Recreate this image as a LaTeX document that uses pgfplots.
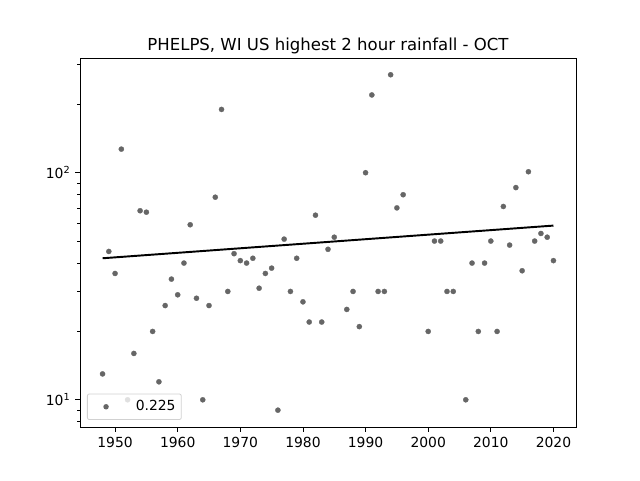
\documentclass[border=0pt]{standalone}
\usepackage{pgfplots}
\usepackage{fontspec}
\setmainfont{DejaVu Sans}
\pgfplotsset{compat=1.18}
\definecolor{dotc}{HTML}{666666}
\begin{document}
\begin{tikzpicture}[x=1pt,y=1pt]
\path[use as bounding box] (0,0) rectangle (480,360);
\begin{axis}[
  at={(60pt,39.75pt)},anchor=south west,
  scale only axis,width=372pt,height=276.75pt,
  ymode=log,
  xmin=1944.4,xmax=2023.6,ymin=7.59,ymax=320,
  xtick={1950,1960,...,2020},
  ytick={10,100},
  yticklabels={10\textsuperscript{1},10\textsuperscript{2}},
  minor ytick={8,9,20,30,40,50,60,70,80,90,200,300},
  x tick label style={/pgf/number format/1000 sep={},/pgf/number format/assume math mode=true},
  tick label style={font=\fontsize{10.42pt}{12pt}\selectfont},
  xtick pos=bottom,ytick pos=left,
  tick align=outside,
  major tick length=3.65pt,minor tick length=2.08pt,
  every tick/.style={black,line width=0.6pt},
  minor tick style={black,line width=0.45pt},
  axis line style={line width=0.6pt},
  xticklabel shift=0.6pt,
  title={PHELPS, WI US highest 2 hour rainfall - OCT},
  title style={font=\fontsize{12.4pt}{14pt}\selectfont,yshift=-6.7pt},
  legend cell align=left,
  legend style={
    at={(axis description cs:0.0141,0.019)},anchor=south west,
    draw=black!18,fill=white,fill opacity=0.8,text opacity=1,
    rounded corners=1.5pt,line width=0.6pt,
    font=\fontsize{10.42pt}{12pt}\selectfont,
    inner xsep=2.3pt,inner ysep=3pt,
  },
  legend image code/.code={\path[draw=none] (0pt,0pt) -- (32pt,0pt);\fill[dotc,draw=none,opacity=1] (11.7pt,0pt) circle (2.05pt);},
]
\addplot[only marks,color=dotc,mark=*,mark size=1.95pt,mark options={draw=dotc,fill=dotc,line width=0.2pt}] table {
1948 13
1949 45
1950 36
1951 127
1952 10
1953 16
1954 68
1955 67
1956 20
1957 12
1958 26
1959 34
1960 29
1961 40
1962 59
1963 28
1964 10
1965 26
1966 78
1967 190
1968 30
1969 44
1970 41
1971 40
1972 42
1973 31
1974 36
1975 38
1976 9
1977 51
1978 30
1979 42
1980 27
1981 22
1982 65
1983 22
1984 46
1985 52
1987 25
1988 30
1989 21
1990 100
1991 220
1992 30
1993 30
1994 270
1995 70
1996 80
2000 20
2001 50
2002 50
2003 30
2004 30
2006 10
2007 40
2008 20
2009 40
2010 50
2011 20
2012 71
2013 48
2014 86
2015 37
2016 101
2017 50
2018 54
2019 52
2020 41
};
\addlegendentry{0.225}
\addplot[black,line width=1.45pt,forget plot] coordinates {(1948,42) (2020,58.5)};
\end{axis}
\end{tikzpicture}
\end{document}
